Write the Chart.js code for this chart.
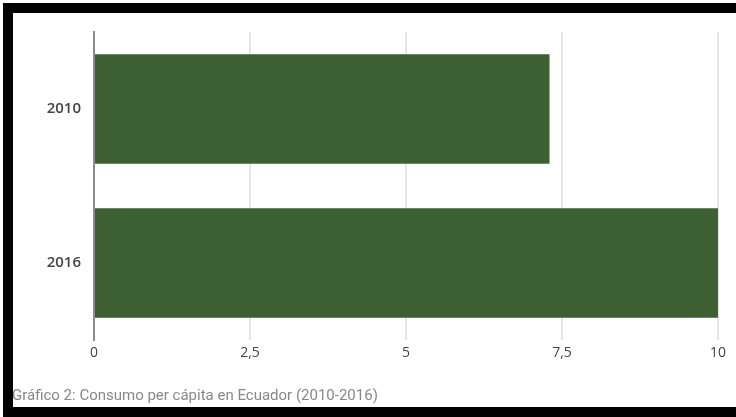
<!DOCTYPE html>
<html>
<head>
<meta charset="utf-8">
<script src="https://cdn.jsdelivr.net/npm/chart.js@4"></script>
<style>
    html { background: #fff; }
    body { margin: 0; padding: 0; background: #fff; }
    .bar-t { position: absolute; left: 3px; top: 3px; width: 733px; height: 10px; background: #000; }
    .bar-l { position: absolute; left: 3px; top: 3px; width: 10px; height: 414px; background: #000; }
    .bar-b { position: absolute; left: 3px; top: 407px; width: 733px; height: 10px; background: #000; }
    #wrap { position: absolute; left: 0; top: 0; width: 100vw; height: 417px; }
    #caption {
        position: absolute; left: 12px; top: 386px;
        font-family: Roboto, sans-serif; font-size: 15px; color: #888;
    }
</style>
</head>
<body>
<div class="bar-t"></div><div class="bar-l"></div><div class="bar-b"></div>
<div id="wrap"><canvas id="chart" width="736" height="417"></canvas></div>
<div id="caption">Gráfico 2: Consumo per cápita en Ecuador (2010-2016)</div>
<script>
// Datos del gráfico
const years = ['2010', '2016'];
const consumo = [7.3, 10];
const xTickLabels = ['0', '2,5', '5', '7,5', '10'];

const ctx = document.getElementById('chart');

new Chart(ctx, {
    type: 'bar',
    data: {
        labels: years,
        datasets: [{
            label: 'Consumo per cápita',
            data: consumo,
            backgroundColor: '#3d6033',
            borderWidth: 0,
            categoryPercentage: 1,
            barPercentage: 0.71
        }]
    },
    options: {
        indexAxis: 'y',
        responsive: false,
        animation: false,
        layout: { padding: { top: 32, right: 18, left: 0, bottom: 0 } },
        plugins: {
            legend: { display: false },
            tooltip: { enabled: false }
        },
        scales: {
            x: {
                min: 0, max: 10,
                ticks: {
                    stepSize: 2.5,
                    padding: 5,
                    color: '#444',
                    font: { family: 'Open Sans', size: 14 },
                    callback: (v, i) => xTickLabels[i]
                },
                grid: { color: '#e6e6e6', lineWidth: 2, drawTicks: false },
                border: { display: false },
                afterFit: s => { s.height = 77; }
            },
            y: {
                ticks: {
                    padding: 13,
                    color: '#444',
                    font: { family: 'Open Sans', size: 15, weight: '600' }
                },
                grid: { display: false, drawTicks: false },
                border: { display: true, color: '#8c8c8c', width: 2 },
                afterFit: s => { s.width = 94; }
            }
        }
    }
});
</script>
</body>
</html>
